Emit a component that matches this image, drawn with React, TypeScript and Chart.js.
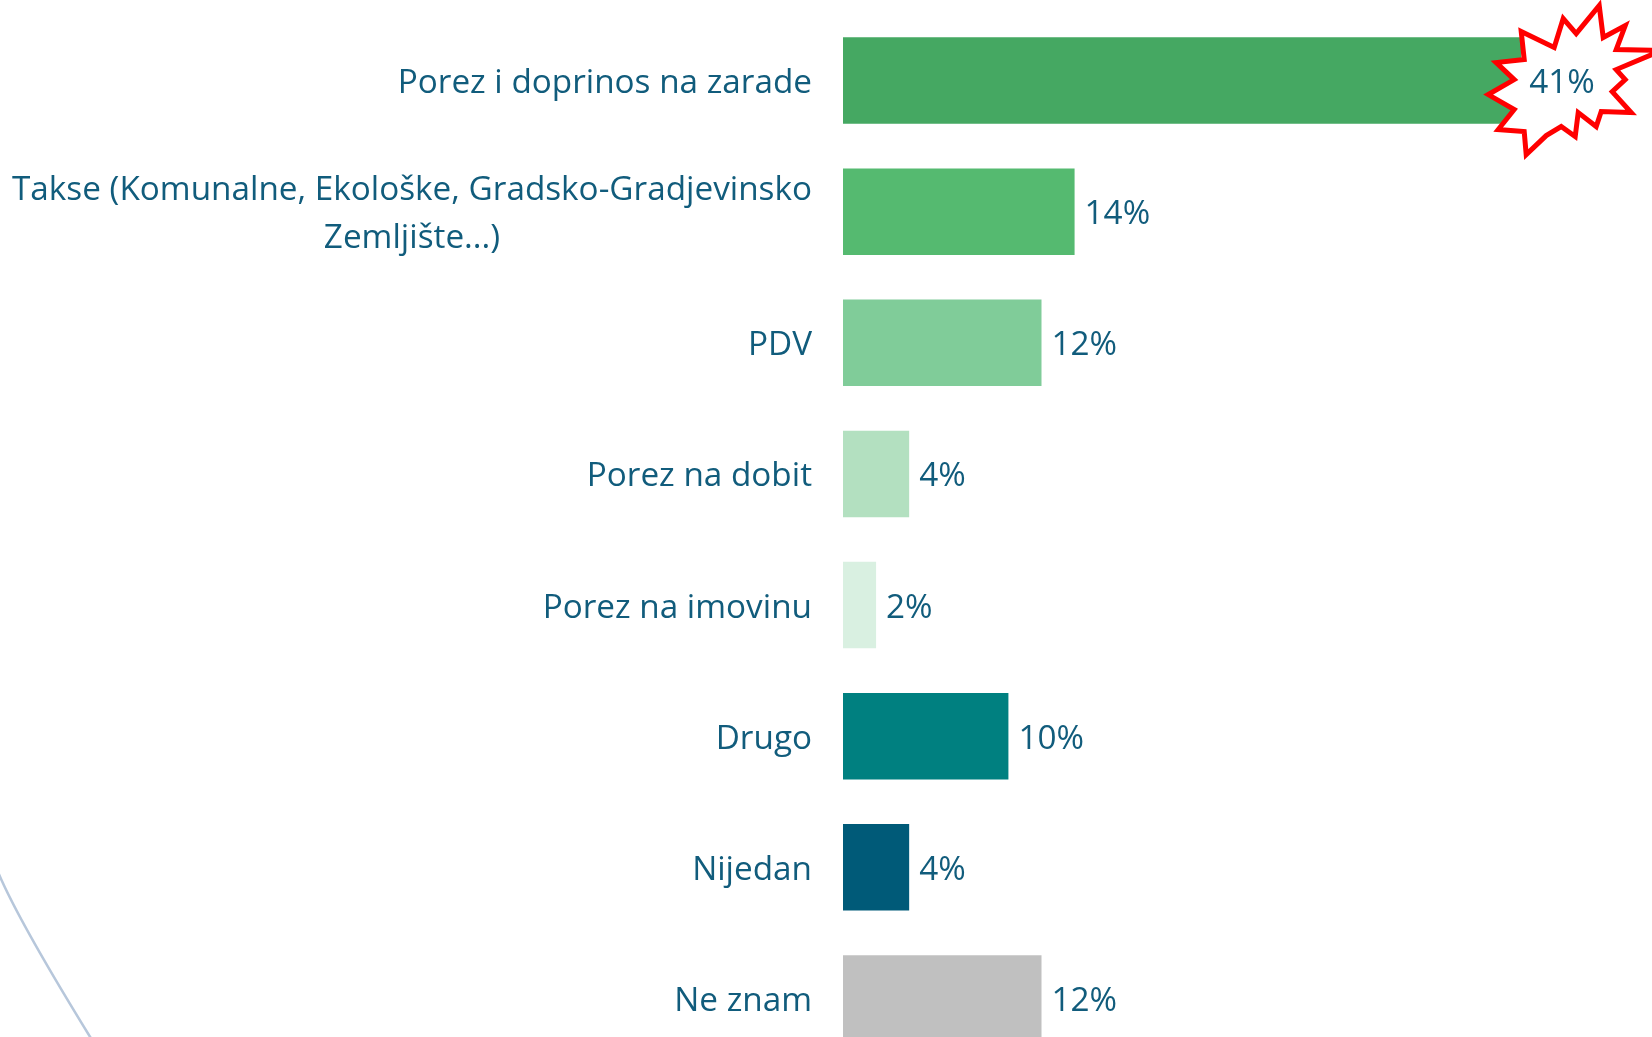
import { useEffect, useRef } from 'react';
import { Chart, registerables } from 'chart.js';

Chart.register(...registerables);

const categories: (string | string[])[] = [
  'Porez i doprinos na zarade',
  ['Takse (Komunalne, Ekološke, Gradsko-Gradjevinsko', 'Zemljište...)'],
  'PDV',
  'Porez na dobit',
  'Porez na imovinu',
  'Drugo',
  'Nijedan',
  'Ne znam',
];
const values = [41, 14, 12, 4, 2, 10, 4, 12];
const valueLabels = ['41%', '14%', '12%', '4%', '2%', '10%', '4%', '12%'];
const barColors = ['#45A862', '#55BA70', '#80CC99', '#B3E0C0', '#D9F0E1', '#008080', '#005A78', '#C0C0C0'];
const highlightIndex = 0;

const TEXT_COLOR = '#115C7C';
const FAMILY = '"Open Sans", Lato, sans-serif';
const WIDEST_LABEL_PX = 800;

// starburst outline, offsets relative to the highlighted bar's end / centre
const starShape: [number, number][] = [
  [0, -49], [33, -33], [42, -62], [55, -47], [78, -75], [82, -43], [104, -55], [95, -31],
  [140, -30], [95, -11], [104, -1], [91, 11], [110, 32], [80, 31], [75, 46], [57, 32],
  [54, 56], [40, 46], [25, 55], [5, 74], [3, 51], [-23, 49], [-7, 29], [-33, 14],
  [-7, -1], [-25, -18], [3, -21],
];

const decorPlugin = {
  id: 'decor',
  beforeDraw(chart: any) {
    const ctx = chart.ctx;
    ctx.save();
    ctx.strokeStyle = '#B7C7DB';
    ctx.lineWidth = 2.5;
    ctx.beginPath();
    ctx.moveTo(-2, 872);
    ctx.quadraticCurveTo(18, 920, 92, 1040);
    ctx.stroke();
    ctx.restore();
  },
  afterDatasetsDraw(chart: any) {
    const ctx = chart.ctx;
    const meta = chart.getDatasetMeta(0);
    const yScale = chart.scales.y;
    ctx.save();
    // starburst
    const hb = meta.data[highlightIndex];
    ctx.beginPath();
    starShape.forEach(([dx, dy], i) => {
      const px = hb.x + dx;
      const py = hb.y + dy;
      if (i === 0) ctx.moveTo(px, py);
      else ctx.lineTo(px, py);
    });
    ctx.closePath();
    ctx.fillStyle = '#FFFFFF';
    ctx.fill();
    ctx.strokeStyle = '#FF0000';
    ctx.lineWidth = 5;
    ctx.lineJoin = 'miter';
    ctx.stroke();

    // fit font size so the widest label line matches the reference width
    ctx.font = `30px ${FAMILY}`;
    let widest = 0;
    categories.forEach((lab) => {
      (Array.isArray(lab) ? lab : [lab]).forEach((l) => {
        widest = Math.max(widest, ctx.measureText(l).width);
      });
    });
    const size = Math.round(30 * (WIDEST_LABEL_PX / widest) * 10) / 10;
    ctx.font = `${size}px ${FAMILY}`;
    ctx.fillStyle = TEXT_COLOR;
    ctx.textBaseline = 'middle';
    const dy = 3;
    // value labels
    meta.data.forEach((bar: any, i: number) => {
      ctx.textAlign = 'left';
      const off = i === highlightIndex ? 8 : 10;
      ctx.fillText(valueLabels[i], bar.x + off, bar.y + dy);
    });
    // category labels
    const rightX = yScale.right - 31;
    categories.forEach((lab, i) => {
      const y = yScale.getPixelForTick(i) + dy;
      if (Array.isArray(lab)) {
        const widths = lab.map((l) => ctx.measureText(l).width);
        const maxW = Math.max(...widths);
        const cx = rightX - maxW / 2;
        const lh = 47.5;
        ctx.textAlign = 'center';
        lab.forEach((l, k) => {
          ctx.fillText(l, cx, y + (k - (lab.length - 1) / 2) * lh);
        });
      } else {
        ctx.textAlign = 'right';
        ctx.fillText(lab, rightX, y);
      }
    });
    ctx.restore();
  },
};

export default function App() {
  const ref = useRef<HTMLCanvasElement | null>(null);
  useEffect(() => {
    if (!ref.current) return;
    const chart = new Chart(ref.current, {
      type: 'bar',
      data: {
        labels: categories as any,
        datasets: [
          {
            data: values,
            backgroundColor: barColors,
            borderWidth: 0,
            barPercentage: 0.66,
            categoryPercentage: 1,
          },
        ],
      },
      options: {
        indexAxis: 'y',
        animation: false,
        responsive: true,
        maintainAspectRatio: false,
        layout: { padding: { top: 15, right: 15, bottom: 0, left: 0 } },
        plugins: { legend: { display: false }, tooltip: { enabled: false } },
        scales: {
          x: { display: false, min: 0, max: 48 },
          y: {
            grid: { display: false },
            border: { display: false },
            ticks: { display: false },
            afterFit: (s: any) => {
              s.width = 843;
            },
          },
        },
      },
      plugins: [decorPlugin],
    });
    return () => chart.destroy();
  }, []);
  return (
    <div style={{ position: 'fixed', left: 0, top: 0, width: 1652, height: 1037, overflow: 'hidden', background: '#fff' }}>
      <div style={{ position: 'relative', width: 1652, height: 1064 }}>
        <canvas ref={ref} />
      </div>
    </div>
  );
}
